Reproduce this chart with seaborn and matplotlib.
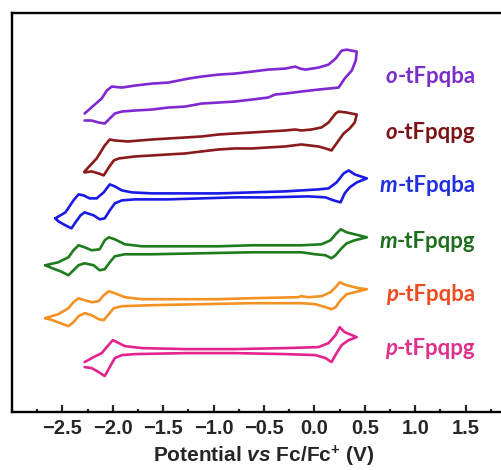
import numpy as np
import pandas as pd
import seaborn as sns
import matplotlib.pyplot as plt
from matplotlib.ticker import MultipleLocator

# CV traces (potential in V vs Fc/Fc+, current in stacked arbitrary units)
o_ba_v = [-2.28, -2.19, -2.11, -2.06, -2.01, -1.91, -1.78, -1.61, -1.45, -1.35, -1.25, -1.12, -0.95,
          -0.79, -0.62, -0.46, -0.29, -0.19, -0.14, -0.09, 0.04, 0.14, 0.21, 0.27, 0.32, 0.42, 0.41,
          0.37, 0.30, 0.24, 0.14, 0.04, -0.13, -0.29, -0.39, -0.46, -0.62, -0.79, -0.95, -1.12, -1.28,
          -1.45, -1.61, -1.78, -1.91, -1.98, -2.03, -2.08, -2.14, -2.21, -2.28]
o_ba_i = [2.99, 3.07, 3.14, 3.22, 3.26, 3.25, 3.27, 3.29, 3.30, 3.32, 3.34, 3.36, 3.38,
          3.39, 3.41, 3.43, 3.44, 3.46, 3.44, 3.43, 3.45, 3.48, 3.54, 3.62, 3.63, 3.61, 3.52,
          3.42, 3.34, 3.25, 3.24, 3.23, 3.21, 3.19, 3.18, 3.15, 3.13, 3.11, 3.10, 3.09, 3.06,
          3.05, 3.03, 3.02, 3.01, 2.99, 2.94, 2.89, 2.90, 2.92, 2.92]

o_pg_v = [-2.28, -2.16, -2.08, -2.03, -1.98, -1.85, -1.61, -1.45, -1.28, -1.12, -0.95, -0.79, -0.62,
          -0.46, -0.29, -0.19, -0.13, -0.03, 0.07, 0.14, 0.21, 0.24, 0.32, 0.42, 0.40, 0.35, 0.29,
          0.24, 0.17, 0.11, 0.04, -0.13, -0.29, -0.46, -0.62, -0.79, -0.95, -1.12, -1.28, -1.45,
          -1.61, -1.78, -1.94, -1.99, -2.04, -2.09, -2.14, -2.21, -2.28]
o_pg_i = [2.41, 2.54, 2.67, 2.73, 2.72, 2.71, 2.73, 2.74, 2.75, 2.76, 2.78, 2.79, 2.80,
          2.81, 2.82, 2.83, 2.82, 2.83, 2.85, 2.90, 2.99, 3.01, 3.00, 2.98, 2.90, 2.84, 2.79,
          2.72, 2.62, 2.64, 2.66, 2.68, 2.66, 2.65, 2.64, 2.64, 2.63, 2.61, 2.59, 2.58,
          2.57, 2.56, 2.54, 2.52, 2.45, 2.37, 2.39, 2.41, 2.40]

m_ba_v = [-2.57, -2.47, -2.39, -2.34, -2.29, -2.23, -2.16, -2.09, -2.03, -1.98, -1.91, -1.81, -1.61,
          -1.28, -0.95, -0.62, -0.29, 0.04, 0.14, 0.22, 0.29, 0.34, 0.40, 0.52, 0.42, 0.35, 0.30,
          0.26, 0.19, 0.11, -0.06, -0.46, -0.79, -1.12, -1.45, -1.78, -1.91, -1.98, -2.03, -2.08,
          -2.13, -2.19, -2.28, -2.32, -2.37, -2.41, -2.47, -2.54, -2.57]
m_ba_i = [1.94, 2.00, 2.12, 2.18, 2.17, 2.14, 2.14, 2.20, 2.28, 2.26, 2.22, 2.20, 2.19,
          2.19, 2.19, 2.20, 2.21, 2.23, 2.24, 2.30, 2.39, 2.42, 2.38, 2.34, 2.30, 2.25, 2.19,
          2.10, 2.12, 2.15, 2.16, 2.15, 2.15, 2.14, 2.13, 2.13, 2.12, 2.09, 2.02, 1.94,
          1.93, 1.97, 2.00, 1.97, 1.90, 1.84, 1.87, 1.91, 1.94]

m_pg_v = [-2.67, -2.54, -2.44, -2.39, -2.34, -2.28, -2.21, -2.13, -2.08, -2.04, -1.98, -1.88, -1.71,
          -1.28, -0.95, -0.62, -0.29, -0.13, 0.07, 0.16, 0.21, 0.26, 0.32, 0.44, 0.52, 0.40, 0.32,
          0.26, 0.21, 0.17, 0.11, 0.01, -0.13, -0.62, -1.12, -1.61, -1.88, -1.98, -2.03, -2.08,
          -2.13, -2.19, -2.28, -2.34, -2.39, -2.44, -2.52, -2.60, -2.67]
m_pg_i = [1.47, 1.50, 1.55, 1.62, 1.67, 1.65, 1.62, 1.63, 1.72, 1.75, 1.73, 1.68, 1.66,
          1.66, 1.66, 1.67, 1.67, 1.67, 1.68, 1.72, 1.78, 1.83, 1.80, 1.77, 1.75, 1.72, 1.69,
          1.63, 1.57, 1.54, 1.57, 1.58, 1.60, 1.60, 1.59, 1.58, 1.58, 1.56, 1.50, 1.43,
          1.42, 1.47, 1.49, 1.47, 1.42, 1.37, 1.41, 1.44, 1.47]

p_ba_v = [-2.67, -2.54, -2.44, -2.39, -2.34, -2.28, -2.21, -2.14, -2.09, -2.04, -1.98, -1.88, -1.71,
          -1.28, -0.95, -0.62, -0.16, -0.13, -0.06, 0.07, 0.16, 0.21, 0.25, 0.32, 0.44, 0.52, 0.40,
          0.32, 0.26, 0.21, 0.17, 0.11, 0.01, -0.13, -0.62, -1.12, -1.61, -1.91, -1.99, -2.04,
          -2.09, -2.14, -2.21, -2.28, -2.34, -2.39, -2.44, -2.52, -2.60, -2.67]
p_ba_i = [0.94, 0.98, 1.04, 1.10, 1.14, 1.12, 1.10, 1.11, 1.17, 1.21, 1.19, 1.15, 1.13,
          1.13, 1.13, 1.14, 1.15, 1.16, 1.15, 1.16, 1.20, 1.25, 1.30, 1.27, 1.24, 1.23, 1.20,
          1.18, 1.12, 1.05, 1.03, 1.05, 1.08, 1.09, 1.09, 1.08, 1.07, 1.06, 1.04, 0.98,
          0.92, 0.93, 0.97, 0.99, 0.96, 0.90, 0.86, 0.89, 0.92, 0.94]

p_pg_v = [-2.28, -2.19, -2.11, -2.06, -2.00, -1.94, -1.88, -1.71, -1.28, -0.79, -0.29, 0.04, 0.14,
          0.21, 0.25, 0.30, 0.42, 0.34, 0.27, 0.22, 0.17, 0.11, 0.01, -0.29, -0.79, -1.28, -1.78,
          -1.91, -1.98, -2.03, -2.08, -2.14, -2.21, -2.28]
p_pg_i = [0.50, 0.55, 0.59, 0.65, 0.72, 0.69, 0.66, 0.64, 0.63, 0.63, 0.64, 0.65, 0.69,
          0.77, 0.85, 0.80, 0.75, 0.72, 0.67, 0.59, 0.50, 0.54, 0.57, 0.58, 0.59, 0.59, 0.58,
          0.57, 0.54, 0.45, 0.36, 0.40, 0.44, 0.45]

samples = ['o-tFpqba', 'o-tFpqpg', 'm-tFpqba', 'm-tFpqpg', 'p-tFpqba', 'p-tFpqpg']
prefixes = ['o', 'o', 'm', 'm', 'p', 'p']
suffixes = ['-tFpqba', '-tFpqpg', '-tFpqba', '-tFpqpg', '-tFpqba', '-tFpqpg']
potentials = [o_ba_v, o_pg_v, m_ba_v, m_pg_v, p_ba_v, p_pg_v]
currents = [o_ba_i, o_pg_i, m_ba_i, m_pg_i, p_ba_i, p_pg_i]
label_y = [3.36, 2.80, 2.27, 1.71, 1.18, 0.64]
line_colors = ['#8028D2', '#8B1A1A', '#1A1AE6', '#1E7B1E', '#F39223', '#E3248E']
text_colors = ['#7A2ECB', '#7B1414', '#2030E0', '#1E6E1E', '#EE4A1E', '#E0308A']

frames = []
for name, v, i in zip(samples, potentials, currents):
    frames.append(pd.DataFrame({'Potential': v, 'Current': i, 'Sample': name}))
df = pd.concat(frames, ignore_index=True)

sns.set_style("ticks")
plt.rcParams['font.family'] = ['Liberation Sans', 'DejaVu Sans']
plt.rcParams['mathtext.fontset'] = 'custom'
plt.rcParams['mathtext.rm'] = 'Liberation Sans:bold'
plt.rcParams['mathtext.it'] = 'Liberation Sans:italic:bold'
plt.rcParams['mathtext.bf'] = 'Liberation Sans:bold'

fig = plt.figure(figsize=(5.02, 4.70), dpi=100)
ax = fig.add_axes([12 / 502, 58 / 470, 504 / 502, 399.3 / 470])

sns.lineplot(data=df, x='Potential', y='Current', hue='Sample', hue_order=samples,
             palette=dict(zip(samples, line_colors)), sort=False, estimator=None,
             linewidth=1.9, legend=False, ax=ax)
for line in ax.lines:
    line.set_solid_joinstyle('round')

ax.set_xlim(-3.0, 2.0)
ax.set_ylim(0, 4.0)
ax.set_xticks([-2.5, -2.0, -1.5, -1.0, -0.5, 0.0, 0.5, 1.0, 1.5])
ax.xaxis.set_minor_locator(MultipleLocator(0.25))
ax.set_yticks([])
ax.set_ylabel('')
ax.tick_params(axis='x', which='major', direction='in', length=5, width=1.6,
               labelsize=14.5, pad=5)
ax.tick_params(axis='x', which='minor', direction='in', length=2.5, width=1.6)
for lab in ax.get_xticklabels():
    lab.set_fontweight('bold')
for side in ['left', 'top', 'bottom', 'right']:
    ax.spines[side].set_linewidth(1.7)
    ax.spines[side].set_color('black')

ax.set_xlabel(r'Potential $\mathit{vs}$ Fc/Fc$^{+}$ (V)', fontsize=15,
              fontweight='bold', labelpad=4)

for pre, suf, ly, col in zip(prefixes, suffixes, label_y, text_colors):
    t = ax.text(1.60, ly, suf, ha='right', va='center', color=col, fontsize=16,
                fontweight='bold', family='Lato')
    ax.annotate(pre, xy=(0, 0), xycoords=t, ha='right', va='bottom', color=col,
                fontsize=16, fontweight='bold', fontstyle='italic', family='Lato')

fig.savefig('out.png', dpi=100)
